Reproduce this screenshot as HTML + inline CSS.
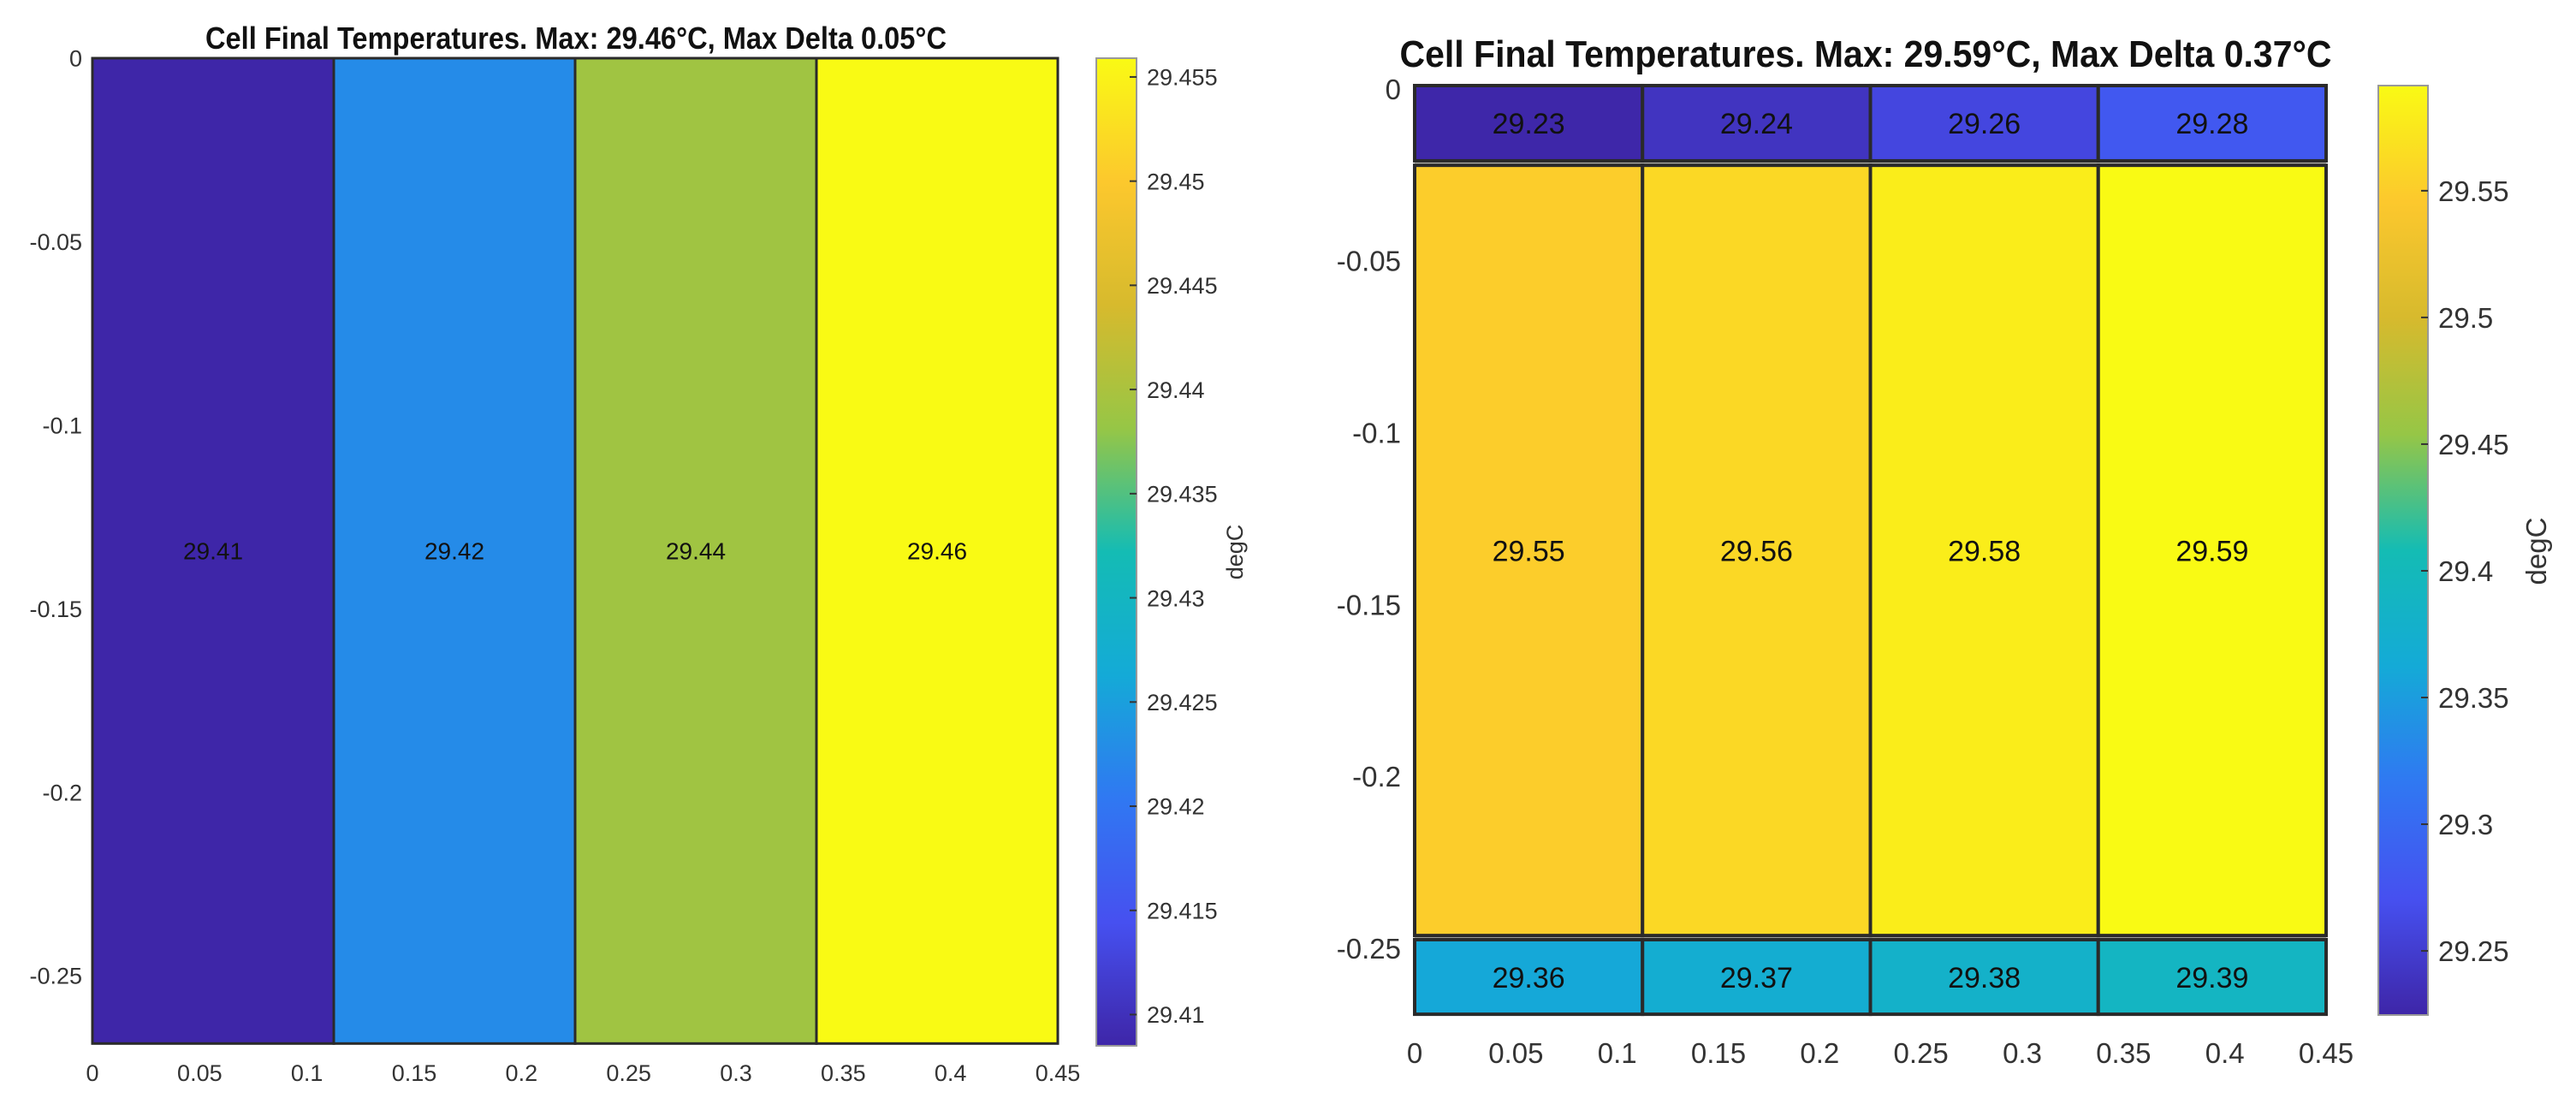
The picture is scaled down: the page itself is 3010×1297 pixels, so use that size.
<!DOCTYPE html>
<html><head><meta charset="utf-8"><style>
html,body{margin:0;padding:0;background:#fff;width:3010px;height:1297px;overflow:hidden}
svg text{font-family:"Liberation Sans",sans-serif}
</style></head><body>
<svg id="chart" width="3010" height="1297" viewBox="0 0 3010 1297" xmlns="http://www.w3.org/2000/svg"></svg>
<script>
// ---- data: left chart ----
const leftColEdges = [0, 0.1125, 0.225, 0.3375, 0.45];
const leftRowEdges = [0, -0.2685];
const leftValues = [[29.4085, 29.4226, 29.4390, 29.4559]];
const leftXTicks = [0, 0.05, 0.1, 0.15, 0.2, 0.25, 0.3, 0.35, 0.4, 0.45];
const leftYTicks = [0, -0.05, -0.1, -0.15, -0.2, -0.25];
const leftCTicks = [29.41, 29.415, 29.42, 29.425, 29.43, 29.435, 29.44, 29.445, 29.45, 29.455];
const leftCRange = [29.4085, 29.4559];
// ---- data: right chart ----
const rightColEdges = [0, 0.1125, 0.225, 0.3375, 0.45];
const rightRowEdges = [[0.001, -0.0209], [-0.0222, -0.2463], [-0.2475, -0.2692]];
const rightRow1 = [29.2256, 29.24, 29.26, 29.28];
const rightRow2 = [29.55, 29.56, 29.58, 29.5915];
const rightRow3 = [29.36, 29.37, 29.38, 29.39];
const rightXTicks = [0, 0.05, 0.1, 0.15, 0.2, 0.25, 0.3, 0.35, 0.4, 0.45];
const rightYTicks = [0, -0.05, -0.1, -0.15, -0.2, -0.25];
const rightCTicks = [29.25, 29.3, 29.35, 29.4, 29.45, 29.5, 29.55];
const rightCRange = [29.2247, 29.5915];

const NS = "http://www.w3.org/2000/svg";
const svg = document.getElementById('chart');
const stops = [[0,[62,38,168]],[0.125,[70,80,240]],[0.25,[48,120,242]],[0.375,[20,170,215]],[0.5,[20,188,180]],[0.625,[150,198,70]],[0.75,[215,186,45]],[0.875,[252,200,45]],[1,[249,250,20]]];
function parula(t){t=Math.max(0,Math.min(1,t));for(let i=1;i<stops.length;i++){if(t<=stops[i][0]){const a=stops[i-1],b=stops[i];const f=(t-a[0])/(b[0]-a[0]);return 'rgb('+a[1].map((v,k)=>Math.round(v+(b[1][k]-v)*f)).join(',')+')';}}return 'rgb(249,250,20)';}
function mk(tag, attrs, parent){const e=document.createElementNS(NS,tag);for(const k in attrs)e.setAttribute(k,attrs[k]);(parent||svg).appendChild(e);return e;}
function txt(s, attrs, parent){const e=mk('text',attrs,parent);e.textContent=s;return e;}

function drawPanel(cfg){
  const g=mk('g',{});
  
  
  const xs=v=>cfg.x0+(v-0)*(cfg.x1-cfg.x0)/0.45;
  const ys=v=>cfg.y0+(-v)*cfg.yScale;
  const cs=v=>cfg.cb.bot-(v-cfg.cRange[0])/(cfg.cRange[1]-cfg.cRange[0])*(cfg.cb.bot-cfg.cb.top);
  const t=txt(cfg.title,{x:cfg.titleX,y:cfg.titleY,'text-anchor':'middle','font-size':cfg.titleSize,'font-weight':'bold',fill:'#111',textLength:cfg.titleLen,lengthAdjust:'spacingAndGlyphs'},g);
  
  
  const ax=mk('rect',{x:xs(0),y:ys(cfg.rows[0][0]),width:xs(0.45)-xs(0),height:ys(cfg.rows[cfg.rows.length-1][1])-ys(cfg.rows[0][0]),fill:'#b8b8b0'},g);
  
  
  cfg.rows.forEach((r,ri)=>{
    const vals=cfg.values[ri];
    for(let c=0;c<vals.length;c++){
      const x=xs(cfg.colEdges[c]),w=xs(cfg.colEdges[c+1])-x,y=ys(r[0]),h=ys(r[1])-y;
      const rc=mk('rect',{x:x,y:y,width:w,height:h,fill:parula((vals[c]-cfg.cRange[0])/(cfg.cRange[1]-cfg.cRange[0])),stroke:'#2a2a2a','stroke-width':cfg.strokeW},g);
      
      
      const lb=txt(vals[c].toFixed(2),{x:x+w/2,y:y+h/2+cfg.cellFont*0.36,'text-anchor':'middle','font-size':cfg.cellFont,fill:'#111'},g);
      
      
    }
  });
  cfg.xTicks.forEach(v=>{
    const l=txt(String(v),{x:xs(v),y:cfg.xLabY,'text-anchor':'middle','font-size':cfg.tickFont,fill:'#333'},g);
    
    
  });
  cfg.yTicks.forEach(v=>{
    const l=txt(String(v),{x:cfg.yLabX,y:ys(v)+cfg.tickFont*0.36,'text-anchor':'end','font-size':cfg.tickFont,fill:'#333'},g);
    
    
  });
  const gid='grad'+cfg.name;
  const defs=mk('defs',{},g);
  const lg=mk('linearGradient',{id:gid,x1:0,y1:1,x2:0,y2:0},defs);
  for(let i=0;i<=40;i++){mk('stop',{offset:i/40,'stop-color':parula(i/40)},lg);}
  const cb=mk('rect',{x:cfg.cb.x,y:cfg.cb.top,width:cfg.cb.w,height:cfg.cb.bot-cfg.cb.top,fill:'url(#'+gid+')',stroke:'#999','stroke-width':2},g);
  
  
  cfg.cTicks.forEach(v=>{
    mk('line',{x1:cfg.cb.x+cfg.cb.w-8,x2:cfg.cb.x+cfg.cb.w,y1:cs(v),y2:cs(v),stroke:'#333','stroke-width':2},g);
    const l=txt(String(v),{x:cfg.cb.x+cfg.cb.w+12,y:cs(v)+cfg.tickFont*0.36,'font-size':cfg.tickFont,fill:'#333'},g);
    
    
  });
  const u=txt('degC',{x:cfg.unitX,y:cfg.unitY,'text-anchor':'middle','font-size':cfg.tickFont,fill:'#333',transform:'rotate(-90 '+cfg.unitX+' '+cfg.unitY+')'},g);
  
  
}

drawPanel({name:'left-heatmap',title:'Cell Final Temperatures. Max: 29.46°C, Max Delta 0.05°C',titleX:673,titleY:57,titleSize:36,titleLen:866,
  x0:108,x1:1236,y0:68,yScale:4288,colEdges:leftColEdges,rows:[[leftRowEdges[0],leftRowEdges[1]]],values:leftValues,
  cRange:leftCRange,xTicks:leftXTicks,yTicks:leftYTicks,cTicks:leftCTicks,strokeW:3,cellFont:28,tickFont:27,
  xLabY:1263,yLabX:96,cb:{x:1281,w:47,top:68,bot:1222},unitX:1452,unitY:645});
drawPanel({name:'right-heatmap',title:'Cell Final Temperatures. Max: 29.59°C, Max Delta 0.37°C',titleX:2180,titleY:78,titleSize:44,titleLen:1089,
  x0:1653,x1:2718,y0:104,yScale:4016,colEdges:rightColEdges,rows:rightRowEdges,values:[rightRow1,rightRow2,rightRow3],
  cRange:rightCRange,xTicks:rightXTicks,yTicks:rightYTicks,cTicks:rightCTicks,strokeW:4,cellFont:34,tickFont:33,
  xLabY:1242,yLabX:1637,cb:{x:2779,w:58,top:100,bot:1186},unitX:2975,unitY:644});
</script>
</body></html>
